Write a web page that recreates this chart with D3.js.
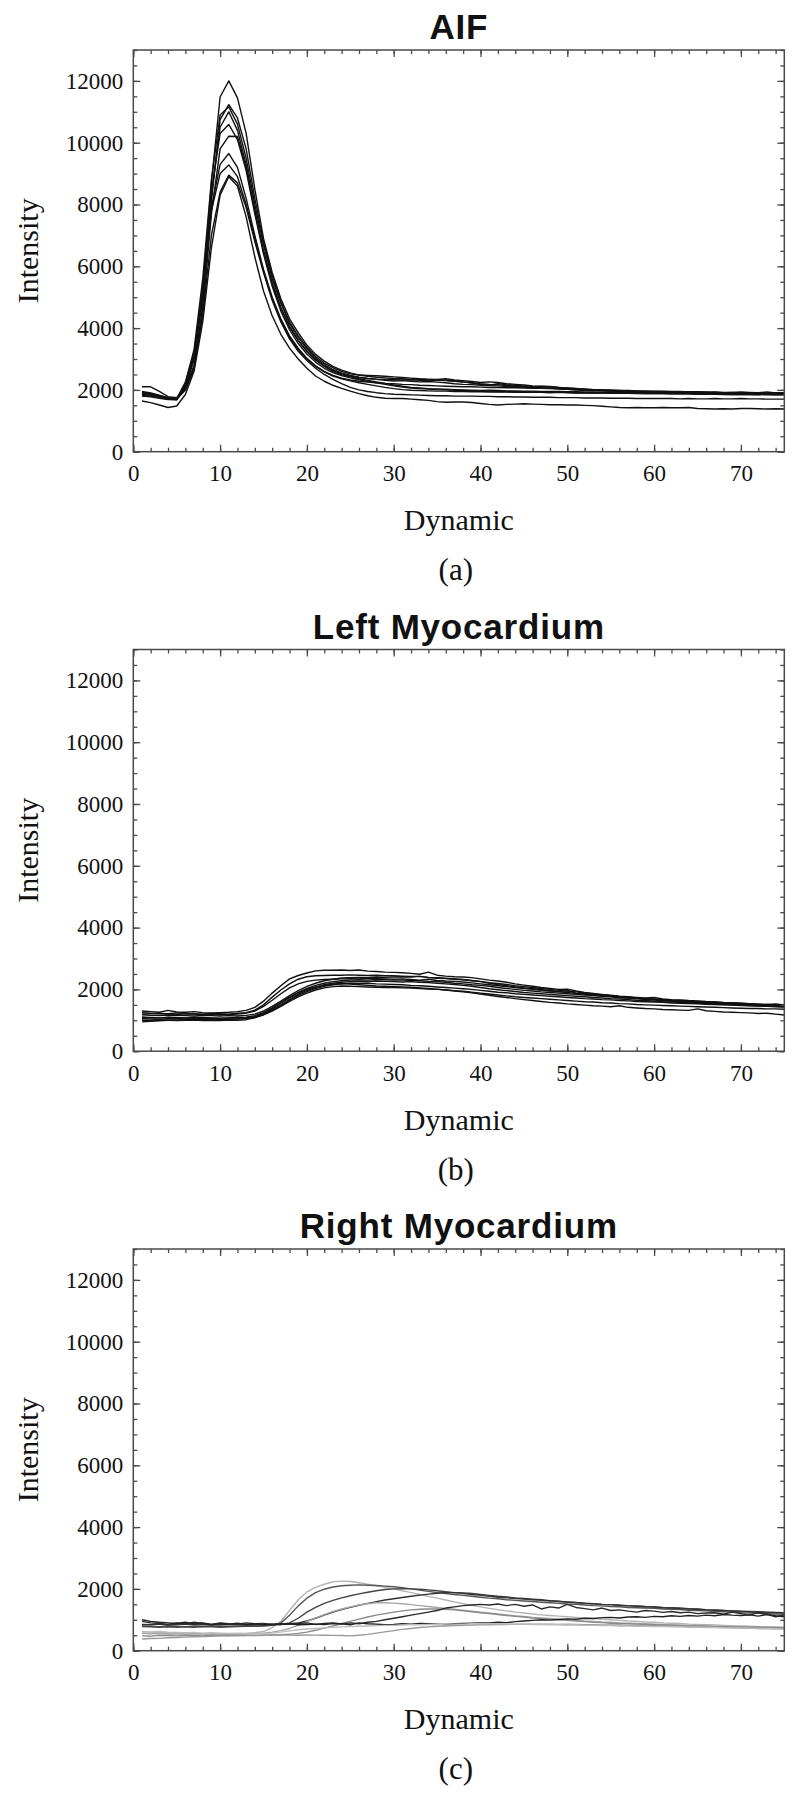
<!DOCTYPE html>
<html>
<head>
<meta charset="utf-8">
<script src="https://cdn.jsdelivr.net/npm/d3@7"></script>
<style>
  body { margin: 0; background: #fff; }
  svg { display: block; }
</style>
</head>
<body>
<div id="container"></div>
<script>
// dynamic index (x axis)
const dynamics = d3.range(1, 76);

const xTicks = [0, 10, 20, 30, 40, 50, 60, 70];
const yTicks = [0, 2000, 4000, 6000, 8000, 10000, 12000];

// AIF curves, one list per region
const aifSeries = [
  [1850,1830,1790,1730,1710, 2150,3100,5300,8700,11480,
   12000,11450,10300,8500,6900,5800,4950,4300,3850,3450,
   3150,2930,2760,2640,2550,2480,2440,2410,2390,2370,
   2360,2340,2350,2320,2330,2300,2280,2250,2230,2200,
   2180,2170,2140,2120,2110,2090,2070,2060,2040,2020,
   2000,1990,1980,1970,1960,1950,1940,1930,1930,1920,
   1920,1910,1910,1900,1900,1890,1890,1880,1880,1880,
   1870,1880,1870,1870,1860],
  [2100,2100,1950,1780,1750, 2050,2800,4700,8100,10750,
   11230,10800,9800,8200,6800,5700,4850,4200,3750,3380,
   3080,2870,2720,2600,2520,2480,2470,2460,2440,2420,
   2400,2380,2360,2350,2340,2360,2320,2300,2270,2240,
   2260,2240,2200,2180,2160,2130,2120,2110,2080,2060,
   2050,2020,2010,1990,1980,1970,1960,1950,1950,1940,
   1950,1940,1950,1930,1940,1920,1930,1910,1920,1930,
   1920,1910,1930,1900,1910],
  [1950,1900,1830,1740,1720, 2250,3300,5600,8800,10900,
   11160,10600,9500,8000,6700,5600,4800,4150,3700,3330,
   3030,2820,2660,2550,2470,2410,2370,2340,2310,2290,
   2300,2280,2260,2270,2250,2230,2200,2180,2170,2150,
   2140,2130,2110,2100,2090,2080,2060,2050,2030,2020,
   2000,1990,1990,1970,1960,1960,1950,1940,1940,1930,
   1930,1920,1930,1910,1920,1900,1910,1900,1890,1900,
   1890,1900,1880,1890,1880],
  [1900,1870,1800,1720,1700, 2100,3000,5000,8300,10500,
   11000,10400,9300,7800,6500,5450,4650,4050,3600,3250,
   2970,2760,2600,2490,2420,2360,2310,2260,2210,2160,
   2120,2080,2060,2040,2030,2020,2010,2000,1990,1980,
   1990,1980,1970,1970,1960,1960,1950,1950,1950,1940,
   1940,1930,1930,1920,1930,1920,1910,1910,1920,1910,
   1900,1910,1900,1900,1890,1900,1890,1880,1890,1880,
   1880,1890,1870,1880,1870],
  [1880,1850,1780,1710,1690, 2200,3200,5300,8400,10300,
   10590,10100,9100,7700,6400,5350,4550,3950,3500,3160,
   2900,2700,2560,2460,2390,2330,2280,2230,2180,2130,
   2090,2060,2040,2030,2010,2000,1990,1980,1970,1960,
   1960,1950,1950,1940,1940,1930,1930,1920,1920,1920,
   1910,1910,1900,1900,1900,1890,1890,1890,1880,1880,
   1880,1870,1870,1870,1860,1860,1860,1850,1850,1850,
   1850,1840,1850,1840,1840],
  [1920,1880,1810,1750,1720, 2000,2700,4500,7700,9800,
   10210,10200,9200,7800,6500,5450,4650,4050,3600,3250,
   2980,2780,2620,2520,2450,2400,2370,2350,2340,2330,
   2320,2330,2310,2300,2320,2310,2290,2260,2220,2180,
   2150,2200,2170,2150,2120,2100,2110,2100,2080,2060,
   2040,2030,2010,2000,1990,1980,1970,1960,1960,1950,
   1950,1940,1940,1930,1930,1920,1920,1910,1920,1900,
   1910,1900,1900,1890,1900],
  [1800,1780,1730,1690,1680, 2100,3000,5000,7900,9300,
   9650,9200,8200,7000,5900,5000,4300,3750,3350,3020,
   2780,2600,2470,2380,2320,2280,2250,2230,2210,2200,
   2180,2170,2150,2140,2130,2120,2110,2100,2100,2090,
   2080,2080,2070,2070,2060,2050,2050,2040,2040,2030,
   2020,2010,2000,2000,1990,1980,1980,1970,1960,1960,
   1950,1950,1940,1940,1930,1930,1920,1920,1910,1910,
   1900,1900,1890,1900,1890],
  [1870,1840,1780,1720,1700, 2150,3100,5100,7800,9000,
   9280,8900,8000,6900,5850,4950,4250,3700,3300,3000,
   2760,2580,2450,2360,2290,2230,2180,2130,2080,2040,
   2010,1990,1980,1970,1960,1960,1950,1950,1940,1940,
   1930,1940,1930,1920,1930,1920,1920,1910,1920,1910,
   1900,1910,1900,1900,1890,1900,1890,1880,1890,1880,
   1880,1870,1880,1870,1860,1870,1860,1860,1850,1860,
   1850,1850,1860,1840,1850],
  [1820,1800,1750,1700,1690, 2000,2700,4400,7000,8400,
   8950,8700,7900,6800,5800,4900,4200,3650,3250,2950,
   2700,2500,2340,2200,2080,2000,1950,1910,1880,1860,
   1850,1840,1830,1820,1810,1810,1800,1800,1800,1790,
   1790,1780,1780,1770,1770,1760,1760,1760,1750,1750,
   1750,1740,1740,1740,1730,1730,1730,1720,1720,1720,
   1720,1720,1710,1720,1710,1710,1720,1710,1710,1720,
   1710,1710,1700,1700,1700],
  [1640,1590,1510,1430,1480, 1850,2600,4200,6600,8300,
   8900,8600,7600,6300,5200,4400,3800,3350,3000,2700,
   2450,2280,2150,2050,1960,1880,1810,1760,1730,1720,
   1720,1700,1680,1660,1620,1600,1610,1610,1590,1560,
   1530,1510,1530,1540,1550,1540,1530,1520,1520,1510,
   1510,1500,1490,1470,1450,1430,1420,1430,1420,1420,
   1430,1420,1420,1430,1400,1390,1380,1390,1380,1400,
   1400,1390,1380,1390,1380]
];

const leftMyoSeries = [
  [1300,1280,1260,1320,1270,1260,1280,1250,1240,1250,
   1260,1280,1320,1420,1620,1880,2120,2340,2450,2530,
   2600,2620,2620,2630,2610,2630,2590,2580,2560,2550,
   2540,2520,2490,2560,2460,2430,2410,2400,2380,2340,
   2300,2270,2230,2180,2140,2100,2060,2030,2000,2010,
   1950,1900,1870,1840,1810,1780,1760,1740,1720,1740,
   1690,1670,1660,1640,1630,1610,1600,1580,1570,1560,
   1540,1520,1510,1530,1500],
  [1250,1230,1220,1210,1240,1220,1210,1200,1220,1210,
   1200,1230,1250,1330,1500,1750,1980,2180,2330,2410,
   2440,2450,2460,2460,2470,2460,2450,2460,2440,2440,
   2430,2420,2420,2390,2380,2360,2340,2320,2290,2260,
   2220,2190,2160,2120,2090,2060,2030,2000,1970,1950,
   1920,1880,1850,1820,1800,1770,1750,1720,1700,1680,
   1660,1640,1630,1610,1600,1580,1570,1560,1540,1530,
   1520,1510,1500,1490,1480],
  [1180,1160,1150,1170,1160,1150,1140,1160,1150,1140,
   1150,1140,1160,1200,1300,1450,1620,1800,1960,2100,
   2200,2280,2330,2370,2380,2390,2380,2400,2390,2400,
   2410,2400,2420,2380,2360,2350,2330,2310,2280,2250,
   2200,2160,2120,2080,2050,2020,1990,1960,1930,1960,
   1880,1850,1820,1790,1770,1740,1720,1700,1680,1660,
   1640,1620,1600,1590,1570,1560,1540,1530,1510,1500,
   1490,1480,1470,1500,1460],
  [1100,1090,1080,1100,1090,1080,1100,1090,1080,1070,
   1080,1090,1100,1150,1250,1400,1570,1750,1900,2030,
   2130,2200,2250,2280,2300,2310,2300,2320,2310,2300,
   2300,2290,2280,2260,2250,2230,2200,2180,2150,2130,
   2100,2060,2030,2000,1970,1950,1920,1900,1880,1860,
   1840,1820,1800,1780,1760,1740,1720,1700,1680,1660,
   1640,1630,1610,1600,1580,1570,1550,1540,1530,1510,
   1500,1490,1480,1470,1460],
  [1050,1040,1030,1050,1060,1040,1050,1060,1040,1050,
   1040,1050,1070,1110,1200,1340,1500,1680,1840,1970,
   2070,2150,2200,2230,2250,2260,2250,2270,2260,2250,
   2240,2250,2230,2220,2200,2180,2160,2130,2100,2060,
   2020,1990,1960,1930,1900,1880,1860,1840,1820,1800,
   1780,1760,1740,1720,1700,1690,1670,1650,1640,1620,
   1600,1590,1580,1560,1550,1540,1520,1510,1500,1490,
   1480,1470,1460,1450,1440],
  [1000,990,1010,1000,990,1000,1010,990,1000,990,
   1010,1000,1020,1080,1180,1320,1480,1650,1800,1930,
   2030,2100,2150,2180,2200,2190,2200,2180,2170,2160,
   2150,2130,2120,2100,2080,2060,2040,2020,2000,1970,
   1940,1910,1890,1860,1840,1820,1800,1780,1760,1740,
   1720,1700,1690,1670,1660,1640,1630,1610,1600,1590,
   1580,1560,1550,1540,1530,1520,1510,1500,1490,1480,
   1470,1460,1450,1440,1430],
  [950,970,980,1000,1010,1020,1030,1020,1040,1030,
   1040,1050,1060,1100,1180,1300,1450,1610,1760,1880,
   1980,2050,2090,2110,2100,2090,2080,2070,2060,2060,
   2050,2040,2030,2010,2000,1980,1960,1940,1910,1880,
   1850,1820,1790,1760,1740,1720,1700,1680,1660,1640,
   1620,1600,1590,1570,1560,1540,1530,1510,1500,1490,
   1480,1470,1460,1450,1440,1430,1420,1410,1400,1390,
   1380,1380,1370,1370,1360],
  [1100,1080,1070,1090,1080,1070,1080,1060,1070,1060,
   1070,1080,1090,1120,1220,1380,1560,1730,1880,2000,
   2080,2130,2170,2190,2170,2150,2130,2110,2100,2090,
   2080,2070,2050,2030,2010,1980,1950,1920,1890,1850,
   1810,1770,1740,1700,1670,1640,1610,1580,1560,1530,
   1510,1490,1470,1460,1440,1470,1420,1400,1380,1370,
   1350,1340,1330,1320,1370,1310,1290,1270,1260,1250,
   1240,1220,1230,1200,1170],
  [1200,1210,1220,1200,1190,1210,1200,1190,1200,1180,
   1190,1200,1230,1300,1450,1650,1860,2050,2180,2260,
   2300,2320,2330,2340,2350,2340,2360,2350,2340,2330,
   2340,2320,2300,2330,2290,2270,2260,2240,2210,2180,
   2150,2120,2090,2060,2030,2000,1970,1950,1920,1900,
   1870,1850,1830,1800,1780,1760,1740,1720,1700,1690,
   1670,1650,1640,1620,1610,1590,1580,1570,1550,1540,
   1530,1520,1510,1500,1490]
];

const rightMyoSeries = [
  [620,600,590,580,570,560,560,550,550,550,
   540,550,560,580,620,750,950,1300,1650,1900,
   2050,2150,2230,2250,2240,2200,2150,2100,2050,2000,
   1940,1880,1820,1760,1700,1640,1580,1520,1470,1420,
   1370,1330,1290,1250,1220,1190,1160,1140,1120,1100,
   1080,1060,1040,1020,1000,980,960,950,930,920,
   900,890,880,860,850,840,830,820,810,800,
   790,780,780,770,760],
  [800,790,780,800,790,780,790,780,800,790,
   780,790,800,790,800,820,900,1150,1450,1700,
   1880,1990,2060,2100,2120,2130,2120,2110,2090,2070,
   2040,2000,1960,1920,1880,1850,1820,1790,1760,1730,
   1700,1680,1650,1630,1610,1590,1570,1550,1530,1510,
   1500,1480,1460,1450,1430,1420,1400,1390,1380,1370,
   1350,1340,1330,1310,1300,1290,1270,1260,1250,1230,
   1220,1210,1200,1190,1180],
  [780,770,760,770,760,770,760,780,770,760,
   770,780,790,800,810,830,850,900,1050,1250,
   1400,1530,1630,1710,1780,1840,1890,1940,1980,2000,
   2010,2000,1990,1970,1940,1910,1880,1850,1820,1790,
   1760,1730,1710,1690,1670,1650,1630,1610,1590,1570,
   1550,1530,1520,1500,1490,1470,1460,1450,1430,1420,
   1400,1390,1380,1360,1350,1330,1320,1300,1290,1270,
   1260,1250,1240,1230,1220],
  [850,840,860,830,850,860,840,850,830,850,
   840,850,830,850,840,850,860,870,900,960,
   1050,1150,1250,1330,1400,1470,1530,1590,1640,1680,
   1720,1760,1800,1830,1860,1880,1880,1870,1850,1820,
   1790,1760,1740,1710,1690,1670,1650,1620,1600,1580,
   1560,1540,1520,1500,1490,1470,1450,1440,1420,1410,
   1390,1380,1360,1350,1340,1320,1310,1300,1290,1280,
   1270,1260,1250,1240,1230],
  [560,550,560,540,550,540,550,540,550,540,
   550,540,550,560,570,600,650,720,820,940,
   1060,1170,1270,1350,1420,1480,1520,1550,1550,1540,
   1520,1490,1460,1430,1400,1370,1340,1310,1280,1250,
   1220,1190,1160,1130,1110,1080,1060,1040,1020,1000,
   980,960,950,930,920,900,890,880,870,860,
   850,840,830,820,810,800,790,780,770,760,
   750,750,740,740,730],
  [480,470,500,490,480,500,490,480,500,490,
   500,490,500,490,500,510,520,530,560,600,
   660,730,800,880,950,1020,1090,1150,1200,1250,
   1290,1320,1340,1350,1350,1340,1320,1290,1260,1230,
   1200,1170,1140,1110,1090,1060,1040,1020,1000,980,
   960,940,920,910,890,880,870,860,850,840,
   830,820,810,800,800,790,780,780,770,770,
   760,760,750,750,740],
  [950,900,880,850,900,870,920,880,850,900,
   870,860,900,870,880,850,870,860,880,900,
   850,880,900,860,900,870,920,950,1000,1050,
   1100,1150,1200,1250,1300,1380,1420,1460,1480,1500,
   1480,1510,1460,1500,1440,1480,1350,1420,1380,1500,
   1400,1360,1320,1380,1300,1320,1280,1250,1300,1280,
   1240,1270,1230,1250,1200,1220,1230,1180,1250,1200,
   1150,1230,1180,1100,1150],
  [1000,950,920,900,880,920,870,900,850,880,
   860,890,850,870,840,860,850,870,840,850,
   860,850,880,870,840,900,870,860,840,850,
   870,860,880,870,860,850,870,880,890,900,
   900,920,910,940,960,980,1000,990,1010,1030,
   1020,1050,1040,1070,1080,1060,1090,1100,1080,1110,
   1100,1130,1110,1140,1120,1150,1130,1170,1150,1140,
   1160,1120,1170,1130,1100],
  [380,395,400,420,425,440,450,455,470,480,
   485,490,495,500,505,500,510,505,500,510,
   505,500,495,490,480,500,530,570,610,650,
   690,720,750,770,790,800,810,820,830,840,
   840,850,850,855,860,860,855,860,850,855,
   850,845,840,835,830,830,820,820,810,810,
   800,800,790,785,780,770,760,750,740,730,
   730,720,720,710,710],
  [600,610,620,600,590,580,590,570,580,570,
   560,570,560,550,560,570,600,640,680,700,
   720,740,760,770,780,790,800,810,820,820,
   830,840,840,850,850,860,860,860,870,870,
   870,870,860,860,860,850,850,840,840,830,
   830,820,820,810,810,800,800,790,790,780,
   780,770,770,760,760,750,750,740,740,730,
   730,720,720,710,700]
];

// grey shade of each right myocardium curve
const rightShades = ['#b3b3b3','#555','#444','#333','#a6a6a6','#8a8a8a','#2b2b2b','#222','#999','#bdbdbd'];

const panels = [
  {title: 'AIF', tag: '(a)', series: aifSeries, color: () => '#111'},
  {title: 'Left Myocardium', tag: '(b)', series: leftMyoSeries, color: () => '#111'},
  {title: 'Right Myocardium', tag: '(c)', series: rightMyoSeries, color: (i) => rightShades[i]}
];

const width = 800, height = 1802;
const margin_left = 133.3;
const plotW = 651, plotH = 401.7;
const panelStep = 599.5;
const firstTop = 50;

const svg = d3.select('#container').append('svg')
  .attr('width', width)
  .attr('height', height);

const x = d3.scaleLinear().domain([0, 75]).range([0, plotW]);
const y = d3.scaleLinear().domain([0, 13000]).range([plotH, 0]);

const line = d3.line()
  .x((d, i) => x(dynamics[i]))
  .y(d => y(d));

const serif = '"Liberation Serif", "Times New Roman", serif';
const axisColor = '#4a4a4a';

function styleAxis(g){
  g.select('.domain').remove();
  g.selectAll('.tick line').attr('stroke', axisColor).attr('stroke-width', 1.3);
  g.selectAll('.tick text')
    .attr('fill', '#111')
    .style('font-family', serif)
    .style('font-size', '23px');
}

panels.forEach((p, k) => {
  const top = firstTop + k * panelStep;
  const g = svg.append('g').attr('transform', `translate(${margin_left},${top})`);

  // curves
  g.append('g')
    .selectAll('path')
    .data(p.series)
    .enter()
    .append('path')
    .attr('d', line)
    .attr('fill', 'none')
    .attr('stroke', (d, i) => p.color(i))
    .attr('stroke-width', 1.4)
    .attr('stroke-linejoin', 'round');

  const minorY = d3.range(0, 13001, 500);
  const minorX = d3.range(0, 76, 2);

  // left / right
  g.append('g').call(d3.axisLeft(y).tickValues(minorY).tickSize(-4).tickFormat('')).call(styleAxis);
  g.append('g').call(d3.axisLeft(y).tickValues(yTicks).tickSize(-7).tickPadding(10).tickFormat(d3.format('d'))).call(styleAxis);
  g.append('g').attr('transform', `translate(${plotW},0)`)
    .call(d3.axisRight(y).tickValues(minorY).tickSize(-4).tickFormat('')).call(styleAxis);
  g.append('g').attr('transform', `translate(${plotW},0)`)
    .call(d3.axisRight(y).tickValues(yTicks).tickSize(-7).tickFormat('')).call(styleAxis);

  // bottom / top
  g.append('g').attr('transform', `translate(0,${plotH})`)
    .call(d3.axisBottom(x).tickValues(minorX).tickSize(-4).tickFormat('')).call(styleAxis);
  g.append('g').attr('transform', `translate(0,${plotH})`)
    .call(d3.axisBottom(x).tickValues(xTicks).tickSize(-7).tickPadding(13).tickFormat(d3.format('d'))).call(styleAxis);
  g.append('g')
    .call(d3.axisTop(x).tickValues(minorX).tickSize(-4).tickFormat('')).call(styleAxis);
  g.append('g')
    .call(d3.axisTop(x).tickValues(xTicks).tickSize(-7).tickFormat('')).call(styleAxis);

  // frame
  g.append('rect')
    .attr('width', plotW)
    .attr('height', plotH)
    .attr('fill', 'none')
    .attr('stroke', axisColor)
    .attr('stroke-width', 1.5);

  // title
  g.append('text')
    .attr('x', plotW / 2)
    .attr('y', -11)
    .attr('text-anchor', 'middle')
    .style('font-family', '"Liberation Sans", Arial, sans-serif')
    .style('font-weight', 'bold')
    .style('font-size', '35px')
    .style('letter-spacing', '0.8px')
    .attr('fill', '#111')
    .text(p.title);

  // axis titles
  g.append('text')
    .attr('transform', `translate(${38 - margin_left},${plotH / 2}) rotate(-90)`)
    .attr('text-anchor', 'middle')
    .style('font-family', serif)
    .style('font-size', '30px')
    .attr('fill', '#111')
    .text('Intensity');

  g.append('text')
    .attr('x', plotW / 2)
    .attr('y', 480)
    .attr('text-anchor', 'middle')
    .style('font-family', serif)
    .style('font-size', '30px')
    .attr('fill', '#111')
    .text('Dynamic');

  g.append('text')
    .attr('x', plotW / 2 - 3)
    .attr('y', 530)
    .attr('text-anchor', 'middle')
    .style('font-family', serif)
    .style('font-size', '31px')
    .attr('fill', '#111')
    .text(p.tag);
});
</script>
</body>
</html>
